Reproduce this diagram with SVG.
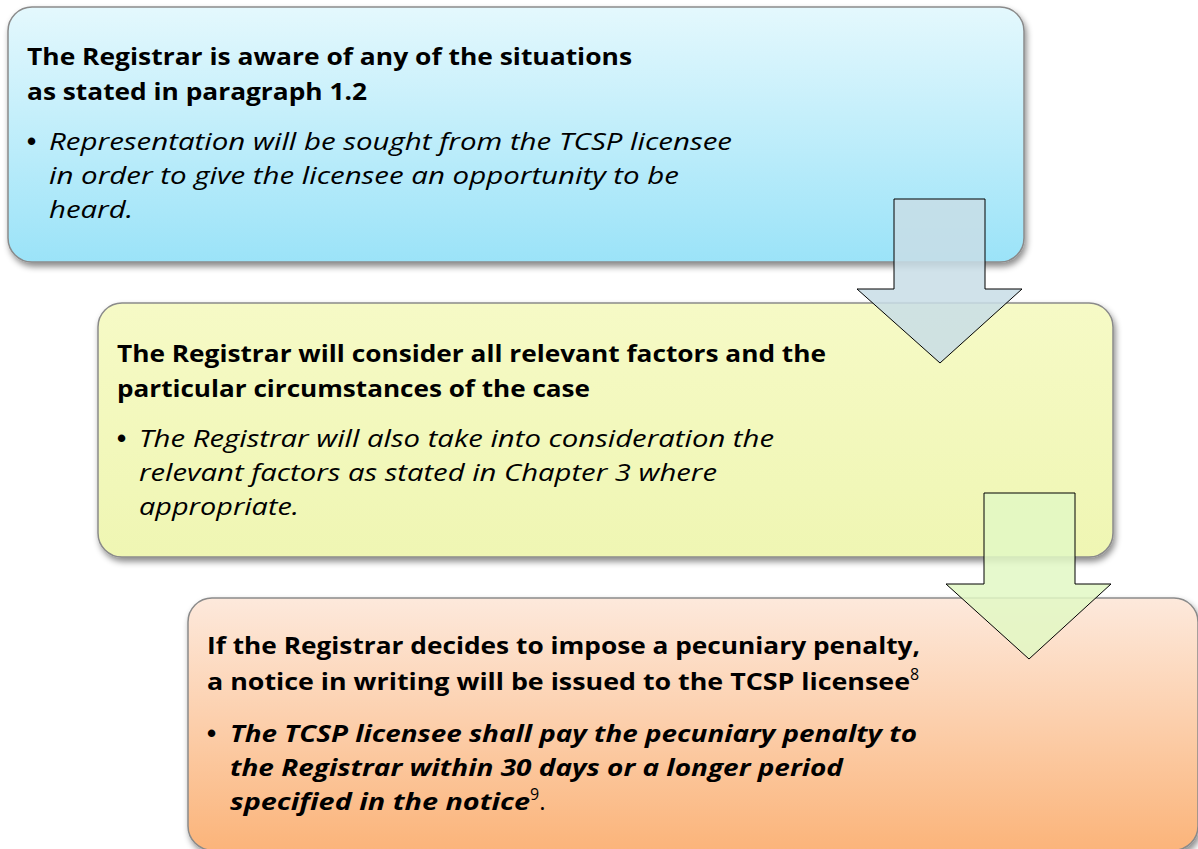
<svg xmlns="http://www.w3.org/2000/svg" width="1198" height="849" viewBox="0 0 1198 849">
<defs>
<linearGradient id="g1" x1="0" y1="0" x2="0" y2="1"><stop offset="0" stop-color="#e4f8fd"/><stop offset="1" stop-color="#9be3f8"/></linearGradient>
<linearGradient id="g2" x1="0" y1="0" x2="0" y2="1"><stop offset="0" stop-color="#f6fac6"/><stop offset="1" stop-color="#eff6b3"/></linearGradient>
<linearGradient id="g3" x1="0" y1="0" x2="0" y2="1"><stop offset="0" stop-color="#fde9dc"/><stop offset="1" stop-color="#fbb47a"/></linearGradient>
<filter id="sh" x="-5%" y="-5%" width="110%" height="120%"><feDropShadow dx="2" dy="4" stdDeviation="3" flood-color="#000" flood-opacity="0.45"/></filter>
<style>
.box{stroke:#8a8a8a;stroke-width:1.5;filter:url(#sh)}
.h{font-family:"Open Sans","Noto Sans",sans-serif;font-weight:bold;font-size:24px;fill:#000}
.b{font-family:"Open Sans","Noto Sans",sans-serif;font-style:italic;font-size:24px;fill:#000}
.bb{font-family:"Open Sans","Noto Sans",sans-serif;font-style:italic;font-weight:bold;font-size:24px;fill:#000}
.dot{font-family:"Liberation Sans",sans-serif;font-size:26px;font-weight:bold;fill:#000}
.p{font-family:"Open Sans","Noto Sans",sans-serif;font-size:24px;font-style:normal;font-weight:normal}
.sup{font-family:"Open Sans","Noto Sans",sans-serif;font-size:16px;font-weight:normal;font-style:normal}
.arr{stroke:#000;stroke-width:1}
</style>
</defs>
<g id="node1">
<rect class="box" x="8" y="7" width="1016" height="255" rx="24" fill="url(#g1)"/>
<text class="h" x="27" y="65" textLength="605" lengthAdjust="spacingAndGlyphs">The Registrar is aware of any of the situations</text>
<text class="h" x="27" y="100" textLength="340" lengthAdjust="spacingAndGlyphs">as stated in paragraph 1.2</text>
<text class="dot" x="27" y="150">•</text>
<text class="b" x="49" y="150" textLength="683" lengthAdjust="spacingAndGlyphs">Representation will be sought from the TCSP licensee</text>
<text class="b" x="49" y="184" textLength="630" lengthAdjust="spacingAndGlyphs">in order to give the licensee an opportunity to be</text>
<text class="b" x="49" y="218" textLength="84" lengthAdjust="spacingAndGlyphs">heard.</text>
</g>
<g id="node2">
<rect class="box" x="98" y="303" width="1015" height="254" rx="24" fill="url(#g2)"/>
<text class="h" x="117" y="362" textLength="709" lengthAdjust="spacingAndGlyphs">The Registrar will consider all relevant factors and the</text>
<text class="h" x="117" y="397" textLength="473" lengthAdjust="spacingAndGlyphs">particular circumstances of the case</text>
<text class="dot" x="117" y="447">•</text>
<text class="b" x="139" y="447" textLength="635" lengthAdjust="spacingAndGlyphs">The Registrar will also take into consideration the</text>
<text class="b" x="139" y="481" textLength="578" lengthAdjust="spacingAndGlyphs">relevant factors as stated in Chapter 3 where</text>
<text class="b" x="139" y="515" textLength="160" lengthAdjust="spacingAndGlyphs">appropriate.</text>
</g>
<g id="node3">
<rect class="box" x="188" y="598" width="1010" height="252" rx="24" fill="url(#g3)"/>
<text class="h" x="207" y="654" textLength="713" lengthAdjust="spacingAndGlyphs">If the Registrar decides to impose a pecuniary penalty,</text>
<text class="h" x="207" y="690"><tspan textLength="703" lengthAdjust="spacingAndGlyphs">a notice in writing will be issued to  the TCSP licensee</tspan><tspan class="sup" dy="-10">8</tspan></text>
<text class="dot" x="207" y="742">•</text>
<text class="bb" x="230" y="742" textLength="687" lengthAdjust="spacingAndGlyphs">The TCSP licensee shall pay the pecuniary penalty to</text>
<text class="bb" x="230" y="776" textLength="613" lengthAdjust="spacingAndGlyphs">the Registrar within 30 days or a longer period</text>
<text class="bb" x="230" y="810"><tspan textLength="300" lengthAdjust="spacingAndGlyphs">specified in the notice</tspan><tspan class="sup" dy="-10">9</tspan><tspan class="p" dy="10">.</tspan></text>
</g>
<g id="connectors">
<polygon class="arr" points="894,199 985,199 985,289 1022,289 940,363 857,289 894,289" fill="#c8dde6" fill-opacity="0.85"/>
<polygon class="arr" points="984,493 1075,493 1075,584 1111,584 1029,659 946,584 984,584" fill="#e2f8c4" fill-opacity="0.85"/>
</g>
</svg>
